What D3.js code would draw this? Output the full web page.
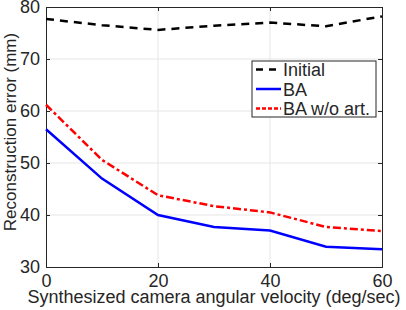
<!DOCTYPE html>
<html>
<head>
<meta charset="utf-8">
<script src="https://cdn.jsdelivr.net/npm/d3@7"></script>
<style>
  body { margin: 0; background: #fff; }
  text { font-family: "Liberation Sans", Arial, sans-serif; fill: #262626; }
</style>
</head>
<body>
<div id="container"></div>
<script>
// ---------------------------------------------------------
// DATA

const velocities = [0, 10, 20, 30, 40, 50, 60]
const initialErr = [77.7, 76.5, 75.6, 76.4, 77.0, 76.3, 78.2]
const baErr = [56.5, 47.0, 40.0, 37.7, 37.0, 33.9, 33.4]
const baNoArtErr = [61.2, 50.6, 43.8, 41.7, 40.5, 37.7, 36.9]

const xTicks = [0, 20, 40, 60]
const yTicks = [30, 40, 50, 60, 70, 80]

const series = [
  { name: 'Initial', values: initialErr, color: '#000', dash: '8,6', legDash: '7,6' },
  { name: 'BA', values: baErr, color: '#0000ff', dash: null, legDash: null },
  { name: 'BA w/o art.', values: baNoArtErr, color: '#ff0000', dash: '8,3,3,3', legDash: '4,2' }
]

// ---------------------------------------------------------
// SETUP

const width = 406
const height = 310
const margin = {top: 7, right: 24, bottom: 43, left: 46}
const fontSize = '18px'

const svg = d3.select('#container').append('svg')
  .attr('width', width)
  .attr('height', height)

const x = d3.scaleLinear().domain([0, 60]).range([margin.left, width - margin.right])
const y = d3.scaleLinear().domain([30, 80]).range([height - margin.bottom, margin.top])

// grid
svg.append('g')
  .selectAll('line')
  .data(xTicks.slice(1, -1))
  .join('line')
  .attr('x1', d => x(d)).attr('x2', d => x(d))
  .attr('y1', y(30)).attr('y2', y(80))
  .attr('stroke', '#e6e6e6')

svg.append('g')
  .selectAll('line')
  .data(yTicks.slice(1, -1))
  .join('line')
  .attr('x1', x(0)).attr('x2', x(60))
  .attr('y1', d => y(d)).attr('y2', d => y(d))
  .attr('stroke', '#e6e6e6')

// axes
const xAxis = svg.append('g')
  .attr('transform', `translate(0,${y(30)})`)
  .call(d3.axisBottom(x).tickValues(xTicks).tickSize(-4).tickPadding(7))
const xAxisTop = svg.append('g')
  .attr('transform', `translate(0,${y(80)})`)
  .call(d3.axisTop(x).tickValues(xTicks).tickSize(-4).tickFormat(''))
const yAxis = svg.append('g')
  .attr('transform', `translate(${x(0)},0)`)
  .call(d3.axisLeft(y).tickValues(yTicks).tickSize(-4).tickPadding(6))
const yAxisRight = svg.append('g')
  .attr('transform', `translate(${x(60)},0)`)
  .call(d3.axisRight(y).tickValues(yTicks).tickSize(-4).tickFormat(''))

;[xAxis, xAxisTop, yAxis, yAxisRight].forEach(g => {
  g.select('.domain').attr('stroke', '#262626')
  g.selectAll('.tick line').attr('stroke', '#262626')
  g.selectAll('text').style('font-size', fontSize).attr('fill', '#262626')
})

// lines
const line = d3.line()
  .x((d, i) => x(velocities[i]))
  .y(d => y(d))

svg.append('g')
  .selectAll('path')
  .data(series)
  .join('path')
  .attr('d', d => line(d.values))
  .attr('fill', 'none')
  .attr('stroke', d => d.color)
  .attr('stroke-width', 2.5)
  .attr('stroke-dasharray', d => d.dash)

// labels
svg.append('text')
  .attr('x', 214)
  .attr('y', 303)
  .attr('text-anchor', 'middle')
  .style('font-size', fontSize)
  .text('Synthesized camera angular velocity (deg/sec)')

svg.append('text')
  .attr('transform', 'translate(16,132) rotate(-90)')
  .attr('text-anchor', 'middle')
  .style('font-size', '17px')
  .text('Reconstruction error (mm)')

// legend
const legend = svg.append('g').attr('transform', 'translate(252,61)')
legend.append('rect')
  .attr('width', 124).attr('height', 56)
  .attr('fill', '#fff')
  .attr('stroke', '#262626')
  .attr('stroke-width', 1)

const legendItems = legend.selectAll('g')
  .data(series)
  .join('g')
  .attr('transform', (d, i) => `translate(0,${8.5 + i * 19.5})`)

legendItems.append('line')
  .attr('x1', 4).attr('x2', 29)
  .attr('stroke', d => d.color)
  .attr('stroke-width', 2.5)
  .attr('stroke-dasharray', d => d.legDash)

legendItems.append('text')
  .attr('x', 31)
  .attr('y', 6.5)
  .style('font-size', fontSize)
  .text(d => d.name)
</script>
</body>
</html>
